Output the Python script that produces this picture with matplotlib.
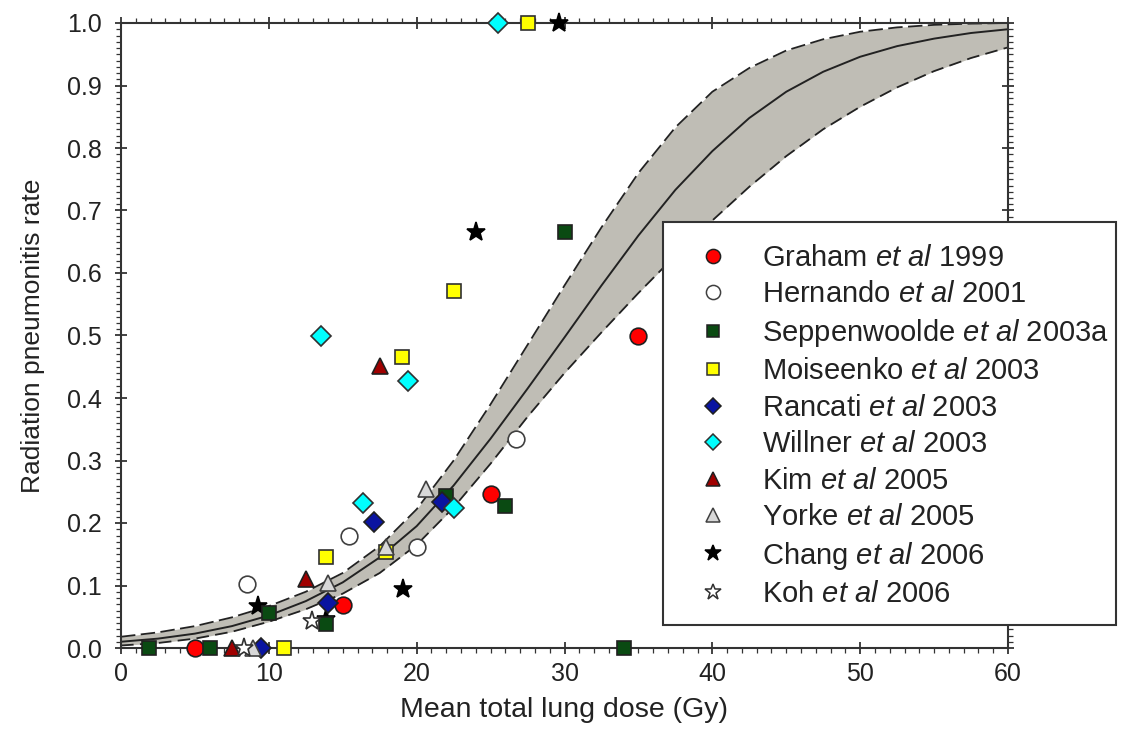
import matplotlib
matplotlib.use("Agg")
import matplotlib.pyplot as plt
from matplotlib.lines import Line2D
from matplotlib.patches import Rectangle
from matplotlib.ticker import MultipleLocator, FormatStrFormatter

plt.rcParams['font.family'] = ['Liberation Sans', 'DejaVu Sans']
plt.rcParams['mathtext.fontset'] = 'custom'
plt.rcParams['mathtext.rm'] = 'Liberation Sans'
plt.rcParams['mathtext.it'] = 'Liberation Sans:italic'

# ---- model curve ----
dose_grid = [0, 2.5, 5, 7.5, 10, 12.5, 15, 17.5, 20, 22.5, 25, 27.5, 30,
             32.5, 35, 37.5, 40, 42.5, 45, 47.5, 50, 52.5, 55, 57.5, 60]
ntcp_center = [0.010, 0.015, 0.023, 0.035, 0.052, 0.075, 0.105, 0.145, 0.195,
               0.260, 0.335, 0.415, 0.497, 0.580, 0.660, 0.733, 0.795, 0.848,
               0.890, 0.922, 0.946, 0.963, 0.975, 0.984, 0.990]
ntcp_upper = [0.018, 0.025, 0.035, 0.049, 0.067, 0.090, 0.120, 0.163, 0.222,
              0.300, 0.390, 0.485, 0.580, 0.673, 0.760, 0.833, 0.890, 0.928,
              0.956, 0.974, 0.986, 0.993, 0.997, 0.999, 1.000]
ntcp_lower = [0.004, 0.008, 0.015, 0.026, 0.042, 0.062, 0.087, 0.120, 0.165,
              0.225, 0.295, 0.370, 0.440, 0.505, 0.568, 0.628, 0.684, 0.738,
              0.787, 0.830, 0.866, 0.897, 0.923, 0.944, 0.961]

# ---- study data ----
graham_x = [5.0, 15.0, 25.0, 35.0]
graham_y = [0.0, 0.069, 0.246, 0.500]
hernando_x = [8.5, 15.4, 20.0, 26.7]
hernando_y = [0.102, 0.180, 0.162, 0.335]
seppen_x = [1.9, 6.0, 10.0, 13.9, 22.0, 26.0, 30.0, 34.0]
seppen_y = [0.0, 0.0, 0.056, 0.038, 0.243, 0.228, 0.666, 0.0]
moisee_x = [11.0, 13.9, 17.9, 19.0, 22.5, 27.5]
moisee_y = [0.0, 0.145, 0.154, 0.466, 0.571, 1.0]
rancati_x = [9.5, 14.0, 17.1, 21.7]
rancati_y = [0.0, 0.072, 0.201, 0.233]
willner_x = [13.5, 16.4, 19.4, 22.5, 25.5]
willner_y = [0.500, 0.232, 0.428, 0.224, 1.0]
kim_x = [7.5, 12.5, 17.5]
kim_y = [0.0, 0.110, 0.452]
yorke_x = [8.9, 14.0, 17.9, 20.6]
yorke_y = [0.0, 0.104, 0.162, 0.254]
chang_x = [9.3, 13.9, 19.1, 24.0, 29.6]
chang_y = [0.067, 0.046, 0.094, 0.665, 1.0]
koh_x = [8.3, 12.9]
koh_y = [0.0, 0.043]

labels = [r'Graham $\mathit{et\ al}$ 1999',
          r'Hernando $\mathit{et\ al}$ 2001',
          r'Seppenwoolde $\mathit{et\ al}$ 2003a',
          r'Moiseenko $\mathit{et\ al}$ 2003',
          r'Rancati $\mathit{et\ al}$ 2003',
          r'Willner $\mathit{et\ al}$ 2003',
          r'Kim $\mathit{et\ al}$ 2005',
          r'Yorke $\mathit{et\ al}$ 2005',
          r'Chang $\mathit{et\ al}$ 2006',
          r'Koh $\mathit{et\ al}$ 2006']

series = [
    (graham_x, graham_y, 'o', '#ff0000', '#202020', 12, 5),
    (hernando_x, hernando_y, 'o', '#ffffff', '#404040', 12, 5),
    (seppen_x, seppen_y, 's', '#0a4a12', '#202020', 10.5, 5),
    (moisee_x, moisee_y, 's', '#ffff00', '#303030', 10.5, 5),
    (rancati_x, rancati_y, 'D', '#0a14a0', '#202020', 10, 5),
    (willner_x, willner_y, 'D', '#00ffff', '#303030', 10, 5),
    (kim_x, kim_y, '^', '#a00000', '#202020', 12, 5),
    (yorke_x, yorke_y, '^', '#d8d8d8', '#404040', 12, 5),
    (chang_x, chang_y, '*', '#000000', '#000000', 14, 4),
    (koh_x, koh_y, '*', '#ffffff', '#303030', 14, 5),
]

fig = plt.figure(figsize=(11.29, 7.44), dpi=100)
ax = fig.add_axes([121/1129, 1-648/744, (1008-121)/1129, (648-23)/744])

ax.fill_between(dose_grid, ntcp_lower, ntcp_upper, color='#bfbdb5', lw=0, zorder=1)
ax.plot(dose_grid, ntcp_upper, color='#222222', lw=1.3, ls=(0, (8, 3)), zorder=2)
ax.plot(dose_grid, ntcp_lower, color='#222222', lw=1.3, ls=(0, (7, 3.5)), zorder=2)
ax.plot(dose_grid, ntcp_center, color='#222222', lw=1.4, zorder=2)

handles = []
for (xs, ys, m, fc, ec, ms, z), lab in zip(series, labels):
    ax.plot(xs, ys, ls='none', marker=m, ms=ms, mfc=fc, mec=ec, mew=1.2,
            clip_on=False, zorder=z)
    handles.append(Line2D([], [], ls='none', marker=m, ms=ms * 0.85, mfc=fc,
                          mec=ec, mew=1.1))

ax.set_xlim(0, 60)
ax.set_ylim(0, 1.0)
ax.xaxis.set_major_locator(MultipleLocator(10))
ax.xaxis.set_minor_locator(MultipleLocator(1))
ax.yaxis.set_major_locator(MultipleLocator(0.1))
ax.yaxis.set_minor_locator(MultipleLocator(0.01))
ax.yaxis.set_major_formatter(FormatStrFormatter('%.1f'))
ax.tick_params(which='major', direction='inout', length=8, width=1.2,
               top=True, right=True, labelsize=18, colors='#222222')
ax.tick_params(axis='y', which='major', pad=10)
ax.tick_params(axis='x', which='major', pad=6)
ax.tick_params(which='minor', direction='out', length=3.5, width=0.9,
               top=True, right=True, colors='#333333')
for s in ax.spines.values():
    s.set_linewidth(1.5)
    s.set_color('#333333')

ax.set_xlabel('Mean total lung dose (Gy)', fontsize=20.5, color='#222222')
ax.set_ylabel('Radiation pneumonitis rate', fontsize=19, color='#222222')
ax.xaxis.set_label_coords(0.5, -0.078)
ax.yaxis.set_label_coords(-0.0857, 0.5)

# legend box
box = Rectangle((663/1129, 1-625/744), (1116-663)/1129, (625-222)/744,
                transform=fig.transFigure, facecolor='white', edgecolor='#333333',
                lw=1.5, zorder=3)
fig.add_artist(box)
leg = fig.legend(handles, labels, loc='upper left',
                 bbox_to_anchor=(698/1129, 1-244/744), frameon=False,
                 fontsize=21, labelspacing=0.29, handletextpad=1.2,
                 handlelength=1.0, borderpad=0, borderaxespad=0)
leg.set_zorder(4)
for t in leg.get_texts():
    t.set_color('#222222')

fig.savefig('out.png', dpi=100)
